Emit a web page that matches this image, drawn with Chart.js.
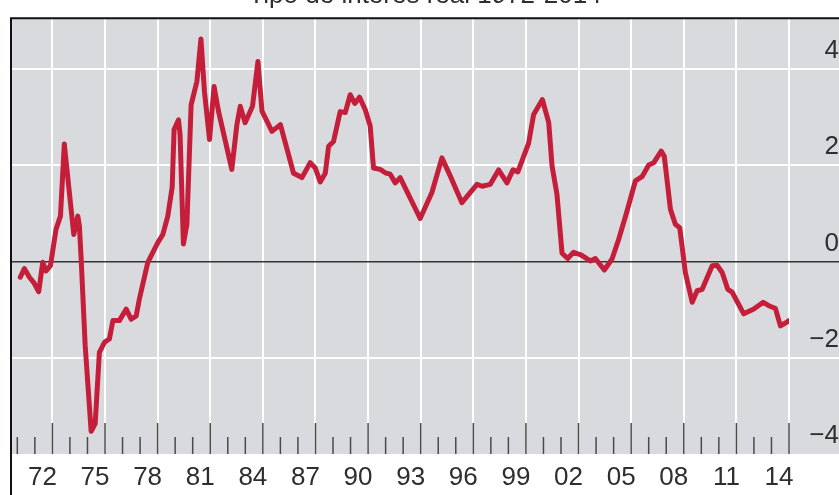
<!DOCTYPE html>
<html>
<head>
<meta charset="utf-8">
<script src="https://cdn.jsdelivr.net/npm/chart.js@4.4.1/dist/chart.umd.min.js"></script>
<style>
  html, body { margin: 0; padding: 0; background: #fff; overflow: hidden; }
  #wrap { position: relative; width: 839px; height: 515px; margin-top: -20px; }
</style>
</head>
<body>
<div id="wrap"><canvas id="chart" width="839" height="515"></canvas></div>
<script>

// real interest rate (x = decimal year)
const years = [
  1971.17, 1971.40, 1971.69, 1971.94, 1972.22, 1972.45, 1972.64, 1972.89,
  1973.21, 1973.46, 1973.68, 1973.91, 1974.22, 1974.45, 1974.54, 1974.64,
  1974.87, 1975.21, 1975.44, 1975.68, 1975.97, 1976.25, 1976.45, 1976.82,
  1977.21, 1977.49, 1977.78, 1977.96, 1978.44, 1979.01, 1979.30, 1979.58,
  1979.83, 1979.94, 1980.19, 1980.28, 1980.47, 1980.67, 1980.91, 1981.24,
  1981.47, 1981.67, 1981.96, 1982.22, 1982.47, 1983.23, 1983.52, 1983.71,
  1983.99, 1984.41, 1984.72, 1984.95, 1985.52, 1986.00, 1986.75, 1987.23,
  1987.70, 1987.99, 1988.27, 1988.56, 1988.75, 1989.03, 1989.41, 1989.70,
  1989.98, 1990.24, 1990.51, 1990.84, 1991.12, 1991.31, 1991.69, 1991.98,
  1992.26, 1992.55, 1992.83, 1993.97, 1994.64, 1995.21, 1995.69, 1996.35,
  1997.21, 1997.50, 1997.97, 1998.44, 1998.92, 1999.26, 1999.54, 2000.15,
  2000.44, 2000.94, 2001.30, 2001.49, 2001.77, 2002.06, 2002.38, 2002.72,
  2003.16, 2003.67, 2003.96, 2004.47, 2004.91, 2005.29, 2005.77, 2006.24,
  2006.62, 2007.00, 2007.29, 2007.71, 2007.89, 2008.24, 2008.52, 2008.77,
  2009.09, 2009.48, 2009.76, 2010.05, 2010.62, 2010.90, 2011.19, 2011.51,
  2011.76, 2012.42, 2012.99, 2013.53, 2013.85, 2014.23, 2014.51, 2014.80,
  2015.00
];
const rates = [
  -0.33, -0.15, -0.33, -0.44, -0.63, -0.02, -0.20, -0.09,
  0.67, 0.94, 2.44, 1.63, 0.56, 0.94, 0.73, 0.05,
  -1.75, -3.53, -3.37, -1.89, -1.68, -1.61, -1.23, -1.23,
  -0.99, -1.20, -1.13, -0.78, -0.02, 0.39, 0.56, 0.94,
  1.54, 2.74, 2.94, 2.63, 0.36, 0.77, 3.25, 3.74,
  4.62, 3.53, 2.53, 3.63, 3.12, 1.91, 2.84, 3.22,
  2.88, 3.22, 4.15, 3.12, 2.70, 2.84, 1.83, 1.74,
  2.05, 1.94, 1.65, 1.83, 2.39, 2.49, 3.11, 3.09,
  3.46, 3.28, 3.41, 3.15, 2.81, 1.94, 1.91, 1.84,
  1.81, 1.63, 1.74, 0.89, 1.43, 2.15, 1.77, 1.22,
  1.60, 1.56, 1.60, 1.90, 1.63, 1.90, 1.86, 2.45,
  3.05, 3.36, 2.88, 1.98, 1.39, 0.17, 0.06, 0.19,
  0.13, 0.01, 0.06, -0.18, 0.05, 0.46, 1.05, 1.67,
  1.76, 2.00, 2.05, 2.29, 2.18, 1.08, 0.77, 0.70,
  -0.23, -0.85, -0.61, -0.58, -0.09, -0.08, -0.23, -0.58,
  -0.64, -1.09, -0.99, -0.85, -0.92, -0.98, -1.34, -1.28,
  -1.23
];

const labelYears = [1972, 1975, 1978, 1981, 1984, 1987, 1990, 1993, 1996, 1999, 2002, 2005, 2008, 2011, 2014];
const yTicks = [-4, -2, 0, 2, 4];

// one tick per year boundary, labels sit inside the year
const yearTicks = [];
for (let y = 1971; y <= 2015; y++) yearTicks.push(y);

const GRAY = '#d9dadd';
const RED = '#c41e3a';
const TXT = '#2e2e2e';
const FONT = "'Liberation Sans', Arial, sans-serif";

const isBig = yr => labelYears.includes(yr - 1);

const panel = {
  id: 'panel',
  beforeDraw(chart) {
    const {ctx, chartArea: a, width} = chart;
    ctx.save();
    ctx.fillStyle = GRAY;
    ctx.fillRect(a.left, a.top, width - a.left, a.bottom - a.top);
    ctx.restore();
  },
  beforeDatasetsDraw(chart) {
    const {ctx, chartArea: a, scales: {x}} = chart;
    ctx.save();
    ctx.strokeStyle = '#4a4a4a';
    ctx.lineWidth = 1.5;
    yearTicks.forEach(yr => {
      const px = x.getPixelForValue(yr);
      const len = isBig(yr) ? 31 : 17;
      ctx.beginPath();
      ctx.moveTo(px, a.bottom);
      ctx.lineTo(px, a.bottom - len);
      ctx.stroke();
    });
    ctx.restore();
  },
  afterDraw(chart) {
    const {ctx, chartArea: a, width, height} = chart;
    ctx.save();
    ctx.strokeStyle = '#111';
    ctx.lineWidth = 2;
    ctx.beginPath();
    ctx.moveTo(a.left, height);
    ctx.lineTo(a.left, a.top);
    ctx.lineTo(width, a.top);
    ctx.stroke();
    ctx.restore();
  }
};

const gridCol = c => c.tick.value === 0 ? '#333' : (c.tick.value === -4 ? 'rgba(0,0,0,0)' : '#ffffff');

new Chart(document.getElementById('chart'), {
  type: 'line',
  data: {
    datasets: [{
      data: years.map((y, i) => ({x: y, y: rates[i]})),
      borderColor: RED,
      borderWidth: 5,
      pointRadius: 0,
      tension: 0,
      borderJoinStyle: 'round',
      borderCapStyle: 'round',
      fill: false
    }]
  },
  options: {
    responsive: false,
    animation: false,
    devicePixelRatio: 1,
    layout: { padding: { left: 11, right: 0, top: 0, bottom: 0 } },
    plugins: {
      legend: { display: false },
      tooltip: { enabled: false },
      title: {
        display: true,
        text: 'Tipo de interés real 1972-2014',
        color: TXT,
        font: { family: FONT, size: 26, weight: 'normal' },
        padding: { top: 0, bottom: 7 }
      }
    },
    scales: {
      x: {
        type: 'linear',
        position: 'bottom',
        min: 1970.64,
        max: 2015.0,
        afterBuildTicks: s => { s.ticks = yearTicks.map(v => ({value: v})); },
        afterFit: s => { s.height = 41; },
        ticks: {
          autoSkip: false,
          maxRotation: 0,
          labelOffset: -10,
          padding: 8,
          color: TXT,
          font: { family: FONT, size: 26 },
          callback: v => isBig(v) ? String((v - 1) % 100).padStart(2, '0') : ''
        },
        grid: {
          drawTicks: false,
          lineWidth: 2,
          color: c => isBig(c.tick.value) ? '#ffffff' : 'rgba(0,0,0,0)'
        },
        border: { display: false }
      },
      y: {
        position: 'right',
        min: -4,
        max: 5.05,
        afterBuildTicks: s => { s.ticks = yTicks.map(v => ({value: v})); },
        afterFit: s => { s.width = 50; },
        ticks: {
          labelOffset: -18,
          padding: -36,
          crossAlign: 'far',
          color: TXT,
          font: { family: FONT, size: 26 },
          callback: v => v < 0 ? '\u2212' + Math.abs(v) : String(v)
        },
        grid: {
          drawTicks: true,
          tickLength: 50,
          color: gridCol,
          tickColor: gridCol,
          lineWidth: c => c.tick.value === 0 ? 1.5 : 2,
          tickWidth: c => c.tick.value === 0 ? 1.5 : 2
        },
        border: { display: false }
      }
    }
  },
  plugins: [panel]
});
</script>
</body>
</html>
